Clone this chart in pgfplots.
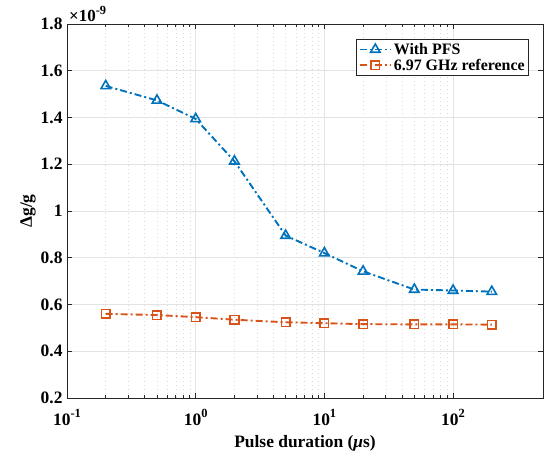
\documentclass[border=0pt]{standalone}
\usepackage{pgfplots}
\pgfplotsset{compat=1.18}
\usepackage{fontspec}
\setmainfont{Liberation Serif}
\definecolor{mblue}{rgb}{0,0.447,0.741}
\definecolor{morange}{rgb}{0.85,0.325,0.098}
\definecolor{axgray}{rgb}{0.15,0.15,0.15}
\newcommand\sups[1]{\raisebox{0.42em}{\fontsize{12.5}{14}\selectfont #1}}
\begin{document}
\begin{tikzpicture}
\begin{axis}[
  scale only axis,
  width=476bp, height=374bp,
  xmode=log,
  xmin=0.1, xmax=500,
  ymin=0.2, ymax=1.8,
  ytick={0.2,0.4,0.6,0.8,1,1.2,1.4,1.6,1.8},
  xtick={0.1,1,10,100},
  xticklabels={10\sups{-1},10\sups{0},10\sups{1},10\sups{2}},
  /pgf/number format/assume math mode=true,
  tick label style={font=\fontsize{17.5}{20}\selectfont\bfseries, text=black},
  xticklabel style={yshift=-8bp},
  yticklabel style={xshift=-1bp},
  label style={font=\fontsize{17.5}{20}\selectfont\bfseries},
  xlabel={Pulse duration (\textit{μ}s)},
  ylabel={Δg/g},
  xlabel style={yshift=-3bp},
  ylabel style={yshift=-2bp},
  axis line style={axgray, line width=0.6bp},
  tick style={axgray, line width=0.6bp},
  tick align=inside,
  major tick length=5bp,
  minor tick length=3bp,
  xtick pos=both, ytick pos=both,
  grid=both,
  ymajorgrids=true, xmajorgrids=true, xminorgrids=true,
  major grid style={gray!22, line width=0.7bp},
  minor grid style={gray!30, line width=0.5bp, dash pattern=on 1bp off 3bp},
  legend style={at={(axis description cs:0.9706,0.96)}, anchor=north east,
    font=\fontsize{16}{18}\selectfont\bfseries, draw=axgray, line width=0.6bp,
    inner sep=2bp, row sep=-1bp, cells={anchor=west}},
  legend cell align=left,
  legend image code/.code={
    \draw[mark repeat=2,mark phase=2,#1] plot coordinates {(0cm,0cm) (0.55cm,0cm) (1.1cm,0cm)};
  },
  clip=false,
]
\addplot[mblue, line width=1.9bp, dash pattern=on 7bp off 3bp on 2bp off 3bp,
  mark=triangle, mark size=5.5bp, mark options={solid, line width=1.6bp}]
  coordinates {(0.2,1.535) (0.5,1.473) (1,1.394) (2,1.213) (5,0.895) (10,0.82) (20,0.742) (50,0.664) (100,0.660) (200,0.655)};
\addlegendentry{With PFS}
\addplot[morange, line width=1.9bp, dash pattern=on 7bp off 3bp on 2bp off 3bp,
  mark=square, mark size=4.3bp, mark options={solid, line width=1.6bp}]
  coordinates {(0.2,0.560) (0.5,0.555) (1,0.546) (2,0.535) (5,0.524) (10,0.520) (20,0.516) (50,0.515) (100,0.515) (200,0.514)};
\addlegendentry{6.97 GHz reference}
\node[anchor=south west, inner sep=0pt, font=\fontsize{17}{20}\selectfont\bfseries] at ([xshift=2bp,yshift=2bp]rel axis cs:0,1) {×10\sups{-9}};
\coordinate (sw) at (rel axis cs:0,0);
\coordinate (ne) at (rel axis cs:1,1);
\end{axis}
\pgfresetboundingbox
\path ([shift={(-67bp,-57bp)}]sw) rectangle ([shift={(6bp,24bp)}]ne);
\end{tikzpicture}
\end{document}
